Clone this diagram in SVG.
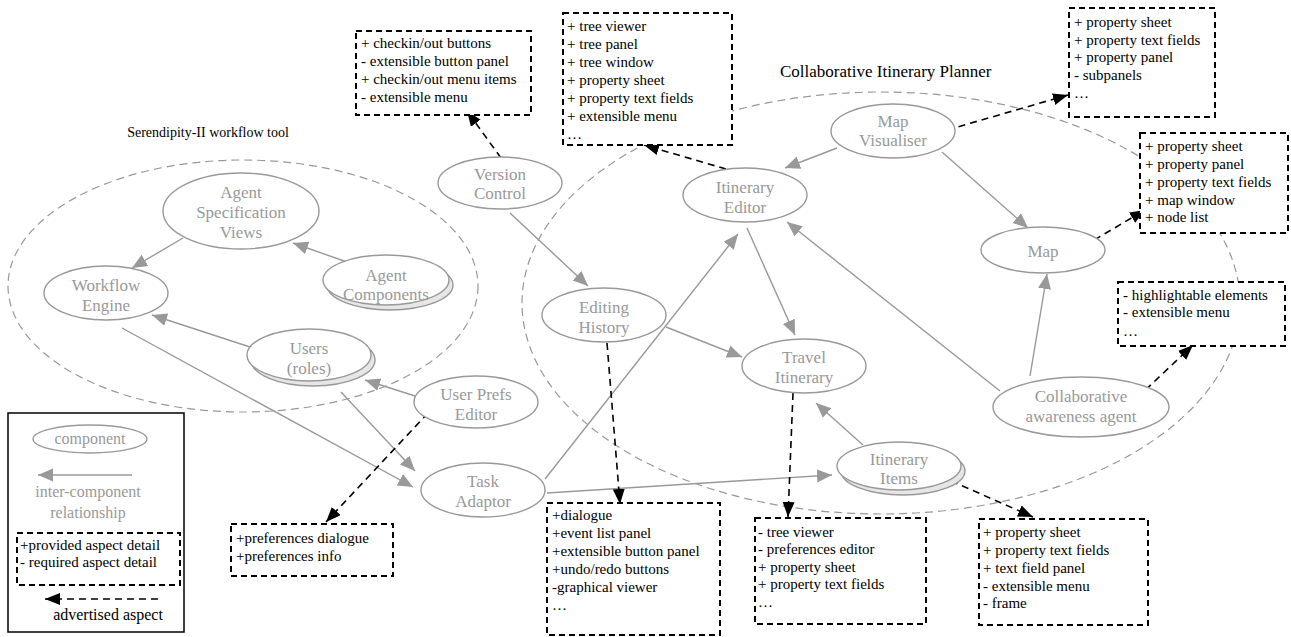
<svg xmlns="http://www.w3.org/2000/svg" width="1291" height="637" viewBox="0 0 1291 637">
  <style>
    .grp { fill: none; stroke: #999; stroke-width: 1.2; stroke-dasharray: 8 5; }
    .node ellipse { fill: #fff; stroke: #999; stroke-width: 1.4; }
    .node ellipse.shadow { fill: #e6e6e6; }
    .node text { font-family: "Liberation Serif", "Times New Roman", serif; font-size: 17px; fill: #999; text-anchor: middle; }
    .rel { stroke: #999; stroke-width: 1.4; fill: none; marker-end: url(#gray-head); }
    .adv { stroke: #000; stroke-width: 1.6; fill: none; stroke-dasharray: 7 5; marker-end: url(#black-head); }
    .aspect rect { fill: #fff; stroke: #000; stroke-width: 2; stroke-dasharray: 6 4; }
    .aspect text { font-family: "Liberation Serif", "Times New Roman", serif; font-size: 15px; fill: #000; }
    .title { font-family: "Liberation Serif", "Times New Roman", serif; font-size: 17px; fill: #000; }
    .legend-text { font-family: "Liberation Serif", "Times New Roman", serif; font-size: 16px; text-anchor: middle; }
  </style>
  <defs>
    <marker id="gray-head" markerUnits="userSpaceOnUse" markerWidth="16" markerHeight="14" refX="15" refY="6.5" orient="auto">
      <path d="M0,0 L15,6.5 L0,13 z" fill="#999"/>
    </marker>
    <marker id="black-head" markerUnits="userSpaceOnUse" markerWidth="16" markerHeight="14" refX="15" refY="6" orient="auto">
      <path d="M0,0 L15,6 L0,12 z" fill="#000"/>
    </marker>
  </defs>
  <rect width="1291" height="637" fill="#fff"/>

  <!-- application boundaries -->
  <g id="groups">
    <ellipse class="grp" cx="243" cy="286" rx="235" ry="126"/>
    <ellipse class="grp" cx="881" cy="303" rx="359" ry="211"/>
    <text class="title" x="208" y="137" text-anchor="middle" style="font-size:14px">Serendipity-II workflow tool</text>
    <text class="title" x="780" y="77">Collaborative Itinerary Planner</text>
  </g>

  <!-- connectors: inter-component relationships and advertised aspects -->
  <g id="connectors">
    <line class="rel" x1="183" y1="238" x2="132" y2="268"/>
    <line class="rel" x1="347" y1="262" x2="293" y2="243"/>
    <line class="rel" x1="250" y1="347" x2="152" y2="315"/>
    <line class="rel" x1="122" y1="328" x2="413" y2="487"/>
    <line class="rel" x1="341" y1="392" x2="415" y2="471"/>
    <line class="rel" x1="415" y1="396" x2="365" y2="380"/>
    <line class="rel" x1="510" y1="213" x2="588" y2="286"/>
    <line class="rel" x1="545" y1="479" x2="738" y2="234"/>
    <line class="rel" x1="747" y1="228" x2="795" y2="335"/>
    <line class="rel" x1="666" y1="327" x2="742" y2="357"/>
    <line class="rel" x1="1000" y1="391" x2="787" y2="222"/>
    <line class="rel" x1="837" y1="148" x2="785" y2="168"/>
    <line class="rel" x1="942" y1="152" x2="1028" y2="228"/>
    <line class="rel" x1="1030" y1="376" x2="1047" y2="274"/>
    <line class="rel" x1="863" y1="445" x2="816" y2="403"/>
    <line class="rel" x1="547" y1="493" x2="832" y2="475"/>

    <line class="adv" x1="501" y1="158" x2="467" y2="111"/>
    <line class="adv" x1="726" y1="169" x2="644" y2="145"/>
    <line class="adv" x1="947" y1="130" x2="1068" y2="95"/>
    <line class="adv" x1="1084" y1="246" x2="1145" y2="210"/>
    <line class="adv" x1="1137" y1="398" x2="1193" y2="345"/>
    <line class="adv" x1="940" y1="476" x2="1033" y2="517"/>
    <line class="adv" x1="793" y1="393" x2="788" y2="517"/>
    <line class="adv" x1="607" y1="343" x2="620" y2="504"/>
    <line class="adv" x1="428" y1="413" x2="326" y2="522"/>
  </g>

  <!-- components -->
  <g id="agent-specification-views" class="node">
    <ellipse cx="241" cy="211" rx="78" ry="38"/>
    <text x="241" y="198">Agent</text>
    <text x="241" y="218">Specification</text>
    <text x="241" y="238">Views</text>
  </g>
  <g id="workflow-engine" class="node">
    <ellipse cx="106" cy="293" rx="62" ry="27"/>
    <text x="106" y="291">Workflow</text>
    <text x="106" y="311">Engine</text>
  </g>
  <g id="agent-components" class="node">
    <ellipse class="shadow" cx="390" cy="285" rx="63" ry="25"/>
    <ellipse cx="386" cy="280" rx="63" ry="25"/>
    <text x="386" y="281">Agent</text>
    <text x="386" y="300">Components</text>
  </g>
  <g id="users" class="node">
    <ellipse class="shadow" cx="313" cy="360" rx="62" ry="26"/>
    <ellipse cx="309" cy="355" rx="62" ry="26"/>
    <text x="309" y="354">Users</text>
    <text x="309" y="374">(roles)</text>
  </g>
  <g id="user-prefs-editor" class="node">
    <ellipse cx="476" cy="402" rx="62" ry="26"/>
    <text x="476" y="400">User Prefs</text>
    <text x="476" y="420">Editor</text>
  </g>
  <g id="task-adaptor" class="node">
    <ellipse cx="483" cy="490" rx="62" ry="27"/>
    <text x="483" y="487">Task</text>
    <text x="483" y="507">Adaptor</text>
  </g>
  <g id="version-control" class="node">
    <ellipse cx="500" cy="183" rx="62" ry="26"/>
    <text x="500" y="180">Version</text>
    <text x="500" y="199">Control</text>
  </g>
  <g id="itinerary-editor" class="node">
    <ellipse cx="745" cy="195" rx="62" ry="27"/>
    <text x="745" y="193">Itinerary</text>
    <text x="745" y="213">Editor</text>
  </g>
  <g id="map-visualiser" class="node">
    <ellipse cx="893" cy="131" rx="62" ry="27"/>
    <text x="893" y="127">Map</text>
    <text x="893" y="146">Visualiser</text>
  </g>
  <g id="map" class="node">
    <ellipse cx="1043" cy="250" rx="62" ry="23"/>
    <text x="1043" y="257">Map</text>
  </g>
  <g id="editing-history" class="node">
    <ellipse cx="604" cy="315" rx="62" ry="27"/>
    <text x="604" y="313">Editing</text>
    <text x="604" y="333">History</text>
  </g>
  <g id="travel-itinerary" class="node">
    <ellipse cx="804" cy="366" rx="62" ry="27"/>
    <text x="804" y="363">Travel</text>
    <text x="804" y="383">Itinerary</text>
  </g>
  <g id="itinerary-items" class="node">
    <ellipse class="shadow" cx="903" cy="471" rx="62" ry="24"/>
    <ellipse cx="899" cy="466" rx="62" ry="24"/>
    <text x="899" y="465">Itinerary</text>
    <text x="899" y="484">Items</text>
  </g>
  <g id="collaborative-awareness-agent" class="node">
    <ellipse cx="1081" cy="407" rx="88" ry="30"/>
    <text x="1081" y="402">Collaborative</text>
    <text x="1081" y="422">awareness agent</text>
  </g>

  <!-- advertised aspect lists -->
  <g id="aspects-version-control" class="aspect">
    <rect x="356" y="31" width="175" height="84"/>
    <text x="361" y="48">+ checkin/out buttons</text>
    <text x="361" y="66">- extensible button panel</text>
    <text x="361" y="84">+ checkin/out menu items</text>
    <text x="361" y="102">- extensible menu</text>
  </g>
  <g id="aspects-itinerary-editor" class="aspect">
    <rect x="563" y="13" width="169" height="132"/>
    <text x="567" y="31">+ tree viewer</text>
    <text x="567" y="49">+ tree panel</text>
    <text x="567" y="67">+ tree window</text>
    <text x="567" y="85">+ property sheet</text>
    <text x="567" y="103">+ property text fields</text>
    <text x="567" y="121">+ extensible menu</text>
    <text x="567" y="139">…</text>
  </g>
  <g id="aspects-map-visualiser" class="aspect">
    <rect x="1069" y="8" width="146" height="109"/>
    <text x="1074" y="27">+ property sheet</text>
    <text x="1074" y="45">+ property text fields</text>
    <text x="1074" y="62">+ property panel</text>
    <text x="1074" y="80">- subpanels</text>
    <text x="1074" y="98">…</text>
  </g>
  <g id="aspects-map" class="aspect">
    <rect x="1140" y="133" width="148" height="100"/>
    <text x="1145" y="151">+ property sheet</text>
    <text x="1145" y="169">+ property panel</text>
    <text x="1145" y="187">+ property text fields</text>
    <text x="1145" y="205">+ map window</text>
    <text x="1145" y="222">+ node list</text>
  </g>
  <g id="aspects-collaborative-agent" class="aspect">
    <rect x="1118" y="282" width="167" height="64"/>
    <text x="1123" y="300">- highlightable elements</text>
    <text x="1123" y="317">- extensible menu</text>
    <text x="1123" y="336">…</text>
  </g>
  <g id="aspects-itinerary-items" class="aspect">
    <rect x="979" y="519" width="169" height="106"/>
    <text x="983" y="537">+ property sheet</text>
    <text x="983" y="555">+ property text fields</text>
    <text x="983" y="573">+ text field panel</text>
    <text x="983" y="591">- extensible menu</text>
    <text x="983" y="608">- frame</text>
  </g>
  <g id="aspects-travel-itinerary" class="aspect">
    <rect x="755" y="518" width="171" height="106"/>
    <text x="758" y="537">- tree viewer</text>
    <text x="758" y="554">- preferences editor</text>
    <text x="758" y="572">+ property sheet</text>
    <text x="758" y="589">+ property text fields</text>
    <text x="758" y="607">…</text>
  </g>
  <g id="aspects-editing-history" class="aspect">
    <rect x="547" y="503" width="173" height="132"/>
    <text x="552" y="520">+dialogue</text>
    <text x="552" y="538">+event list panel</text>
    <text x="552" y="556">+extensible button panel</text>
    <text x="552" y="574">+undo/redo buttons</text>
    <text x="552" y="592">-graphical viewer</text>
    <text x="552" y="610">…</text>
  </g>
  <g id="aspects-user-prefs" class="aspect">
    <rect x="231" y="524" width="162" height="52"/>
    <text x="236" y="543">+preferences dialogue</text>
    <text x="236" y="561">+preferences info</text>
  </g>

  <!-- key -->
  <g id="legend">
    <rect x="8" y="413" width="176" height="219" fill="#fff" stroke="#000" stroke-width="1.5"/>
    <ellipse cx="90" cy="439" rx="57" ry="14" fill="#fff" stroke="#999" stroke-width="1.4"/>
    <text class="legend-text" x="90" y="444" fill="#999">component</text>
    <line class="rel" x1="132" y1="475" x2="38" y2="475"/>
    <text class="legend-text" x="88" y="497" fill="#999">inter-component</text>
    <text class="legend-text" x="88" y="518" fill="#999">relationship</text>
    <g class="aspect">
      <rect x="17" y="533" width="163" height="52"/>
      <text x="20" y="550">+provided aspect detail</text>
      <text x="20" y="567">- required aspect detail</text>
    </g>
    <line class="adv" x1="158" y1="599" x2="45" y2="599"/>
    <text class="legend-text" x="108" y="620" fill="#000">advertised aspect</text>
  </g>
</svg>
